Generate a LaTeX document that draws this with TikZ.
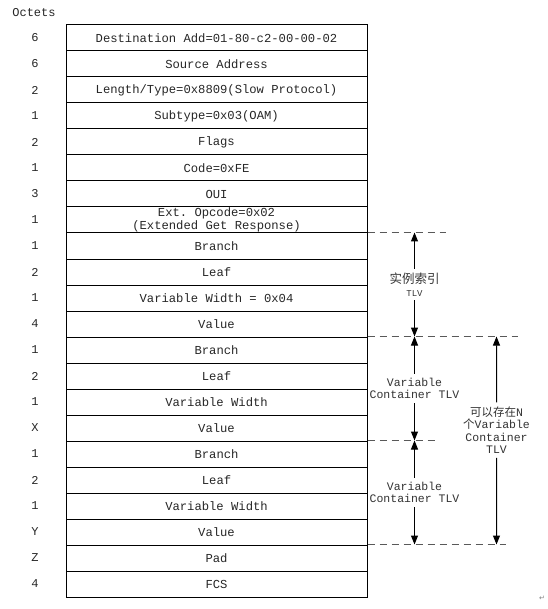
\documentclass[tikz,border=0pt]{standalone}
\usepackage{fontspec}
\setmonofont{Liberation Mono}
\newfontfamily\cjk{Noto Sans CJK SC}
\newfontfamily\symfont{DejaVu Sans}
\usetikzlibrary{arrows.meta,positioning,calc}

\begin{document}
\begin{tikzpicture}[x=1pt, y=-1pt,
    rowbox/.style={draw, line width=1pt, minimum width=301pt, minimum height=26pt, inner sep=0pt,
        align=center, text=black!85, font=\ttfamily\fontsize{12.2}{13.5}\selectfont},
    octet/.style={text=black!85, font=\ttfamily\fontsize{12}{13}\selectfont},
    dashline/.style={draw=black!65, line width=1pt, dash pattern=on 7pt off 5pt},
    tlvarrow/.style={line width=1pt, -{Triangle[length=9pt,width=7pt]}},
    tlvlabel/.style={inner xsep=2pt, inner ysep=4pt, align=center, text=black!80,
        font=\ttfamily\fontsize{11.5}{12.5}\selectfont}]
    \useasboundingbox (0,0) rectangle (547,609);

    % frame fields
    \foreach \txt [count=\i] in {Destination Add=01-80-c2-00-00-02, Source Address,
        Length/Type=0x8809(Slow Protocol), Subtype=0x03(OAM), Flags, Code=0xFE, OUI,
        {Ext. Opcode=0x02\\(Extended Get Response)}, Branch, Leaf, Variable Width = 0x04, Value,
        Branch, Leaf, Variable Width, Value, Branch, Leaf, Variable Width, Value, Pad, FCS}
        \node[rowbox] (r\i) at (216.5,{12+26*\i}) {\txt};

    % octet counts
    \node[octet] (octets) at (34,13) {Octets};
    \foreach \n [count=\i] in {6,6,2,1,2,1,3,1,1,2,1,4,1,2,1,X,1,2,1,Y,Z,4}
        \node[octet] (o\i) at (35,{12+26*\i}) {\n};

    % dashed markers
    \coordinate (d1) at ([xshift=78pt]r9.north east);
    \coordinate (d2) at ([xshift=150pt]r13.north east);
    \coordinate (d3) at ([xshift=68pt]r17.north east);
    \coordinate (d4) at ([xshift=138pt]r21.north east);
    \draw[dashline] (r9.north east) -- (d1);
    \draw[dashline] (r13.north east) -- (d2);
    \draw[dashline] (r17.north east) -- (d3);
    \draw[dashline] (r21.north east) -- (d4);

    % arrow ends
    \coordinate (a1) at ([xshift=47pt]r9.north east);
    \coordinate (a2) at ([xshift=47pt]r13.north east);
    \coordinate (a3) at ([xshift=47pt]r17.north east);
    \coordinate (a4) at ([xshift=47pt]r21.north east);
    \coordinate (b1) at ([xshift=129pt]r13.north east);
    \coordinate (b2) at ([xshift=129pt]r21.north east);

    \node[tlvlabel] (inst) at ($(a1)!0.5!(a2)$) {{\cjk\fontsize{12.5}{13}\selectfont 实例索引}\\{\fontsize{9}{11}\selectfont TLV}};
    \node[tlvlabel] (vc1) at ($(a2)!0.5!(a3)$) {Variable\\Container TLV};
    \node[tlvlabel] (vc2) at ($(a3)!0.5!(a4)$) {Variable\\Container TLV};
    \node[tlvlabel] (many) at ($(b1)!0.45!(b2)$) {{\cjk 可以存在}N\\{\cjk 个}Variable\\Container\\TLV};

    \draw[tlvarrow] (inst) -- (a1);
    \draw[tlvarrow] (inst) -- (a2);
    \draw[tlvarrow] (vc1) -- (a2);
    \draw[tlvarrow] (vc1) -- (a3);
    \draw[tlvarrow] (vc2) -- (a3);
    \draw[tlvarrow] (vc2) -- (a4);
    \draw[tlvarrow] (many) -- (b1);
    \draw[tlvarrow] (many) -- (b2);

    \node[text=black!50, font=\symfont\fontsize{7}{8}\selectfont] (pmark) at (542,598) {↵};
\end{tikzpicture}
\end{document}
